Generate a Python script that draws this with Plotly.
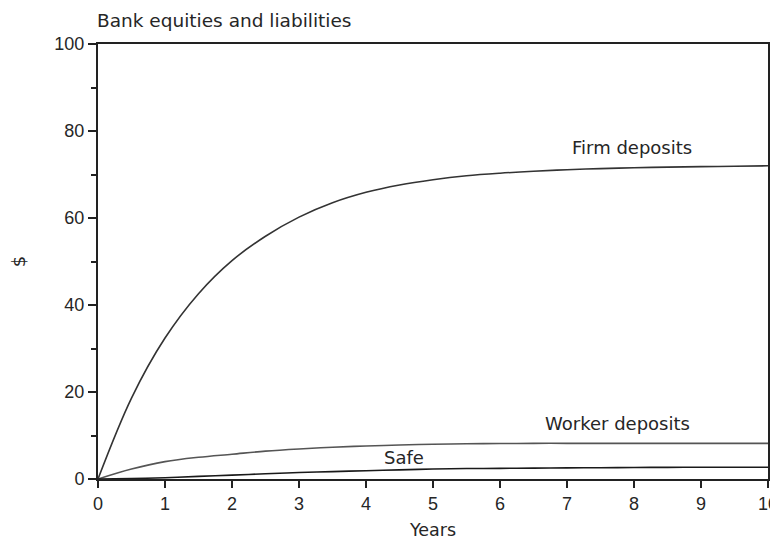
import plotly.graph_objects as go

years = [0, 0.5, 1, 1.5, 2, 2.5, 3, 3.5, 4, 4.5, 5, 5.5, 6, 6.5, 7, 7.5, 8, 8.5, 9, 9.5, 10]
firm_deposits = [0, 18.6, 32.4, 42.6, 50.2, 55.8, 60.2, 63.5, 65.9, 67.6, 68.8, 69.7, 70.3, 70.75, 71.1, 71.35, 71.55, 71.7, 71.8, 71.9, 72.0]
worker_deposits = [0, 2.3, 4.0, 5.0, 5.7, 6.4, 6.9, 7.3, 7.6, 7.8, 8.0, 8.1, 8.15, 8.2, 8.2, 8.2, 8.2, 8.2, 8.2, 8.2, 8.2]
safe = [0, 0.1, 0.3, 0.6, 0.9, 1.2, 1.5, 1.7, 1.9, 2.1, 2.3, 2.4, 2.45, 2.5, 2.55, 2.6, 2.65, 2.68, 2.7, 2.7, 2.7]

x_ticks = [0, 1, 2, 3, 4, 5, 6, 7, 8, 9, 10]
y_ticks = [0, 20, 40, 60, 80, 100]

title_text = "Bank equities and liabilities"
x_title = "Years"
y_title = "$"
labels = ["Firm deposits", "Worker deposits", "Safe"]
label_x = [7.97, 7.75, 4.56]
label_y = [76.2, 12.8, 5.0]

FONT = "DejaVu Sans, sans-serif"
TICKFONT = "Liberation Sans, Arial, sans-serif"
TXT = "#262626"

fig = go.Figure()
fig.add_trace(go.Scatter(x=years, y=firm_deposits, mode="lines", line=dict(color="#333333", width=1.6, shape="spline"), showlegend=False))
fig.add_trace(go.Scatter(x=years, y=worker_deposits, mode="lines", line=dict(color="#555555", width=1.6, shape="spline"), showlegend=False))
fig.add_trace(go.Scatter(x=years, y=safe, mode="lines", line=dict(color="#1a1a1a", width=1.6, shape="spline"), showlegend=False))

for t, lx, ly in zip(labels, label_x, label_y):
    fig.add_annotation(x=lx, y=ly, text=t, showarrow=False, xanchor="center", yanchor="middle",
                       font=dict(family=FONT, size=18, color=TXT))

fig.add_annotation(xref="paper", yref="paper", x=0, y=1, xanchor="left", yanchor="middle", yshift=24, xshift=-3,
                   text=title_text, showarrow=False, font=dict(family=FONT, size=18.5, color=TXT))

fig.update_layout(
    width=778, height=539,
    margin=dict(l=90, r=18, t=36, b=68),
    paper_bgcolor="white", plot_bgcolor="white",
    font=dict(family=FONT, size=16, color=TXT),
    xaxis=dict(range=[0, 10], tickvals=x_ticks, showgrid=False, zeroline=False, automargin=False,
               showline=True, linecolor="#222222", linewidth=2, mirror=True,
               ticks="outside", ticklen=7, tickwidth=1.5, tickcolor="#222222",
               title=dict(text=x_title, standoff=11, font=dict(family=FONT, size=17.5, color=TXT)),
               tickfont=dict(family=TICKFONT, size=18, color=TXT)),
    yaxis=dict(range=[0, 100], tickvals=y_ticks, showgrid=False, zeroline=False, automargin=False,
               showline=True, linecolor="#222222", linewidth=2, mirror=True,
               ticks="outside", ticklen=8, tickwidth=1.5, tickcolor="#222222",
               minor=dict(dtick=10, ticks="outside", ticklen=5, tickwidth=1.5, tickcolor="#222222", showgrid=False),
               title=dict(text=y_title, standoff=28, font=dict(family=FONT, size=18, color=TXT)),
               tickfont=dict(family=TICKFONT, size=18, color=TXT)),
)

fig.write_html("out.html")
